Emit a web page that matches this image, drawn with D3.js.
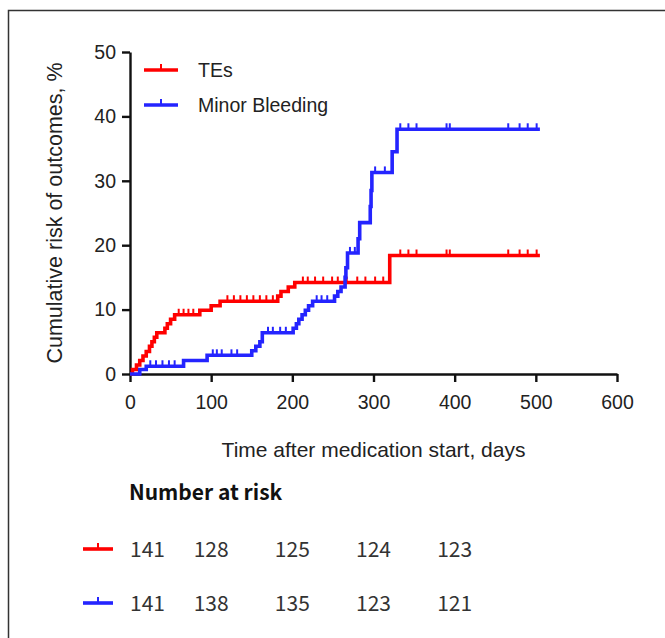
<!DOCTYPE html>
<html>
<head>
<meta charset="utf-8">
<script src="https://cdn.jsdelivr.net/npm/d3@7/dist/d3.min.js"></script>
<style>
  html, body { margin: 0; padding: 0; background: #fff; }
  svg { display: block; }
</style>
</head>
<body>
<svg id="chart" width="665" height="638"></svg>
<script>
// Kaplan–Meier style cumulative risk curves (step functions)
const tesDays  = [0, 3, 8, 12, 16, 20, 24, 27, 30, 33, 43, 46, 50, 55, 86, 100, 111, 182, 186, 195, 203, 320, 505];
const tesRisk  = [0, 0.7, 1.4, 2.1, 2.8, 3.5, 4.3, 5.0, 5.7, 6.4, 7.1, 7.8, 8.5, 9.2, 9.9, 10.6, 11.3, 12.1, 12.8, 13.5, 14.2, 18.4, 18.4];
const tesCensored = [60, 66, 72, 78, 120, 128, 136, 144, 152, 160, 168, 176, 213, 219, 228, 238, 249, 256, 267, 280, 290, 302, 312, 333, 343, 353, 390, 394, 466, 480, 490, 501];

const bleedDays = [0, 12, 20, 66, 95, 150, 155, 160, 163, 201, 205, 208, 212, 216, 220, 225, 252, 256, 260, 265, 266, 268, 281, 283, 296, 297, 298, 323, 329, 505];
const bleedRisk = [0, 0.7, 1.2, 2.1, 2.9, 3.6, 4.3, 5.0, 6.4, 7.1, 7.8, 8.5, 9.2, 9.9, 10.6, 11.3, 12.1, 12.8, 13.5, 15.0, 16.5, 18.8, 21.0, 23.5, 26.0, 28.5, 31.3, 34.5, 38.0, 38.0];
const bleedCensored = [25, 32, 40, 48, 55, 102, 107, 113, 125, 132, 170, 176, 185, 192, 230, 236, 243, 271, 277, 302, 314, 333, 343, 353, 390, 394, 466, 480, 490, 501];

const xTicks = [0, 100, 200, 300, 400, 500, 600];
const yTicks = [0, 10, 20, 30, 40, 50];

const seriesNames = ["TEs", "Minor Bleeding"];
const seriesColors = ["#ff0000", "#2424ff"];

const riskDays = [0, 100, 200, 300, 400];
const tesAtRisk = [141, 128, 125, 124, 123];
const bleedAtRisk = [141, 138, 135, 123, 121];

const svg = d3.select("#chart");
const textColor = "#222";
const sansFont = "'Liberation Sans', Arial, sans-serif";
const tableFont = "'Noto Sans CJK SC', 'Noto Sans', sans-serif";

// outer frame (top and left edges)
svg.append("path")
  .attr("d", "M8.5,638 V10.5 H665")
  .attr("fill", "none")
  .attr("stroke", "#333")
  .attr("stroke-width", 1.5);

const x = d3.scaleLinear().domain([0, 600]).range([130, 617]);
const y = d3.scaleLinear().domain([0, 50]).range([374, 52]);

// axes
const xAxis = d3.axisBottom(x).tickValues(xTicks).tickSize(8).tickSizeOuter(0).tickPadding(13);
const yAxis = d3.axisLeft(y).tickValues(yTicks).tickSize(8).tickSizeOuter(0).tickPadding(6);

const gx = svg.append("g").attr("transform", `translate(0,${y(0)})`).call(xAxis);
const gy = svg.append("g").attr("transform", `translate(${x(0)},0)`).call(yAxis);
[gx, gy].forEach(g => {
  g.select(".domain").attr("stroke", "#111").attr("stroke-width", 2.4);
  g.selectAll(".tick line").attr("stroke", "#111").attr("stroke-width", 2.4);
  g.selectAll(".tick text")
    .attr("fill", textColor)
    .style("font-family", sansFont)
    .style("font-size", "19.5px");
});

// axis titles
svg.append("text")
  .attr("transform", `translate(56,${(y(0) + y(50)) / 2}) rotate(-90)`)
  .attr("text-anchor", "middle")
  .attr("dominant-baseline", "middle")
  .attr("fill", textColor)
  .style("font-family", sansFont)
  .style("font-size", "21.5px")
  .text("Cumulative risk of outcomes, %");

svg.append("text")
  .attr("x", (x(0) + x(600)) / 2)
  .attr("y", 457)
  .attr("text-anchor", "middle")
  .attr("fill", textColor)
  .style("font-family", sansFont)
  .style("font-size", "21px")
  .text("Time after medication start, days");

// step curves
const series = [
  { days: tesDays, risk: tesRisk, censored: tesCensored },
  { days: bleedDays, risk: bleedRisk, censored: bleedCensored }
];

const stepLine = d3.line()
  .x(d => x(d[0]))
  .y(d => y(d[1]))
  .curve(d3.curveStepAfter);

function riskAt(s, day) {
  const i = d3.bisectRight(s.days, day) - 1;
  return s.risk[Math.max(0, i)];
}

series.forEach((s, k) => {
  const pts = s.days.map((d, i) => [d, s.risk[i]]);
  svg.append("path")
    .datum(pts)
    .attr("d", stepLine)
    .attr("fill", "none")
    .attr("stroke", seriesColors[k])
    .attr("stroke-width", 3.6)
    .attr("stroke-linejoin", "miter");

  svg.append("g")
    .selectAll("line")
    .data(s.censored)
    .join("line")
    .attr("x1", d => x(d))
    .attr("x2", d => x(d))
    .attr("y1", d => y(riskAt(s, d)))
    .attr("y2", d => y(riskAt(s, d)) - 6)
    .attr("stroke", seriesColors[k])
    .attr("stroke-width", 2);
});

// legend
function legendSwatch(g, cx, cy, color, w) {
  g.append("line")
    .attr("x1", cx - w / 2).attr("x2", cx + w / 2)
    .attr("y1", cy).attr("y2", cy)
    .attr("stroke", color).attr("stroke-width", 3.6);
  g.append("line")
    .attr("x1", cx).attr("x2", cx)
    .attr("y1", cy).attr("y2", cy - 6)
    .attr("stroke", color).attr("stroke-width", 2);
}

const legend = svg.append("g");
seriesNames.forEach((name, i) => {
  const cy = 70 + i * 35;
  legendSwatch(legend, 161, cy, seriesColors[i], 34);
  legend.append("text")
    .attr("x", 198)
    .attr("y", cy + 7)
    .attr("fill", textColor)
    .style("font-family", sansFont)
    .style("font-size", "19.5px")
    .text(name);
});

// number at risk table
svg.append("text")
  .attr("x", 129)
  .attr("y", 500)
  .attr("fill", "#111")
  .style("font-family", tableFont)
  .style("font-size", "21px")
  .style("font-weight", "bold")
  .text("Number at risk");

[tesAtRisk, bleedAtRisk].forEach((row, r) => {
  const cy = 549 + r * 54;
  legendSwatch(svg, 98, cy, seriesColors[r], 30);
  svg.append("g")
    .selectAll("text")
    .data(row)
    .join("text")
    .attr("x", (d, i) => x(riskDays[i]))
    .attr("y", cy + 8)
    .attr("text-anchor", (d, i) => i === 0 ? "start" : "middle")
    .attr("fill", "#333")
    .style("font-family", tableFont)
    .style("font-size", "21px")
    .text(d => d);
});
</script>
</body>
</html>
